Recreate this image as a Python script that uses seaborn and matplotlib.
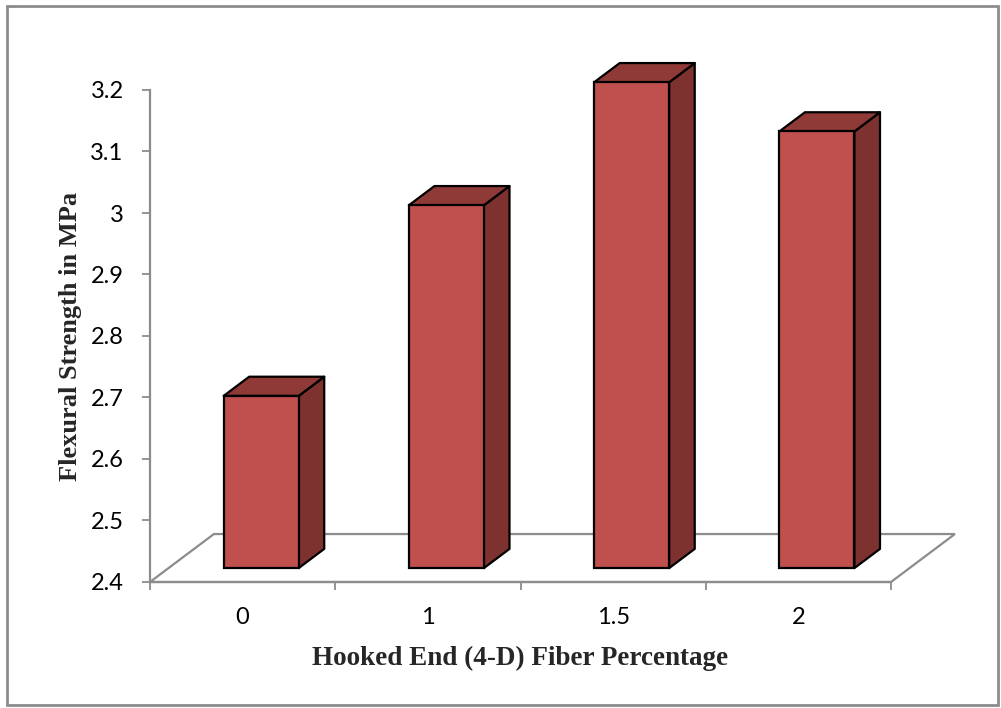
import numpy as np
import pandas as pd
import seaborn as sns
import matplotlib
matplotlib.use("Agg")
import matplotlib.pyplot as plt
from matplotlib.patches import Polygon, Rectangle

# ---- data ----
categories = ["0", "1", "1.5", "2"]
strength = [2.68, 2.99, 3.19, 3.11]
ytick_values = [2.4, 2.5, 2.6, 2.7, 2.8, 2.9, 3.0, 3.1, 3.2]
ytick_labels = ["2.4", "2.5", "2.6", "2.7", "2.8", "2.9", "3", "3.1", "3.2"]
x_title = "Hooked End (4-D) Fiber Percentage"
y_title = "Flexural Strength in MPa"

# ---- style ----
sns.set_theme(style="white")
plt.rcParams["font.family"] = ["Lato", "DejaVu Sans"]

FRONT = "#C0504D"
SIDE = "#7E3230"
TOP = "#8F3A37"
GRAY = "#8C8C8C"

W, H = 1001, 708
fig = plt.figure(figsize=(W / 100, H / 100), dpi=100)
fig.patch.set_facecolor("white")
ax = fig.add_axes([150 / W, 126 / H, 741 / W, 492 / H])

df = pd.DataFrame({"pct": categories, "strength": strength})
sns.barplot(data=df, x="pct", y="strength", color=FRONT, saturation=1,
            width=0.405, edgecolor="black", linewidth=1.6, ax=ax, zorder=5)

base = ytick_values[0]
ax.set_xlim(-0.5, len(categories) - 0.5)
ax.set_ylim(base, ytick_values[-1])

# perspective depth of the floor (in data units)
floor_dx, floor_dy = 0.345, 0.078
f_front, f_back = 0.29, 0.69
fx, fy = floor_dx * f_front, floor_dy * f_front
bx, by = floor_dx * (f_back - f_front), floor_dy * (f_back - f_front)

bars = list(ax.patches)

# floor
x0f, x1f = -0.5, len(categories) - 0.5
floor = Polygon([(x0f, base), (x1f, base), (x1f + floor_dx, base + floor_dy),
                 (x0f + floor_dx, base + floor_dy)], closed=True, fill=False,
                edgecolor=GRAY, linewidth=1.6, clip_on=False, zorder=1)
ax.add_patch(floor)

# turn the flat bars into 3-D columns
for p in bars:
    x0 = p.get_x()
    w = p.get_width()
    v = p.get_height()
    p.set_x(x0 + fx)
    p.set_y(base + fy)
    p.set_height(v - base)
    p.set_clip_on(False)
    xl = x0 + fx
    xr = xl + w
    yt = v + fy
    yb = base + fy
    side = Polygon([(xr, yb), (xr, yt), (xr + bx, yt + by), (xr + bx, yb + by)],
                   closed=True, facecolor=SIDE, edgecolor="black", linewidth=1.6,
                   joinstyle="round", clip_on=False, zorder=4)
    top = Polygon([(xl, yt), (xr, yt), (xr + bx, yt + by), (xl + bx, yt + by)],
                  closed=True, facecolor=TOP, edgecolor="black", linewidth=1.6,
                  joinstyle="round", clip_on=False, zorder=4)
    ax.add_patch(side)
    ax.add_patch(top)

# axes styling
for s in ["top", "right"]:
    ax.spines[s].set_visible(False)
for s in ["left", "bottom"]:
    ax.spines[s].set_color(GRAY)
    ax.spines[s].set_linewidth(1.6)
    ax.spines[s].set_zorder(2)

ax.set_yticks(ytick_values)
ax.set_yticklabels(ytick_labels, fontsize=17)
ax.tick_params(axis="y", which="major", left=True, length=6, width=1.3,
               color=GRAY, pad=13, labelcolor="black")

ax.set_xticks(range(len(categories)))
ax.set_xticklabels(categories, fontsize=17)
ax.set_xticks(np.arange(-0.5, len(categories), 1.0), minor=True)
ax.tick_params(axis="x", which="major", bottom=False, length=0, pad=18,
               labelcolor="black")
ax.tick_params(axis="x", which="minor", bottom=True, length=6, width=1.3,
               color=GRAY)

ax.set_xlabel(x_title, fontsize=19.5, fontweight="bold",
              family="Liberation Serif", labelpad=13)
ax.set_ylabel(y_title, fontsize=19, fontweight="bold",
              family="Liberation Serif", labelpad=6)
ax.grid(False)
ax.set_facecolor("none")

# outer border
fig.patches.append(Rectangle((7 / W, 3 / H), 991 / W, 699 / H,
                             transform=fig.transFigure, fill=False,
                             edgecolor=GRAY, linewidth=2))

fig.savefig("out.png", dpi=100, facecolor="white")
